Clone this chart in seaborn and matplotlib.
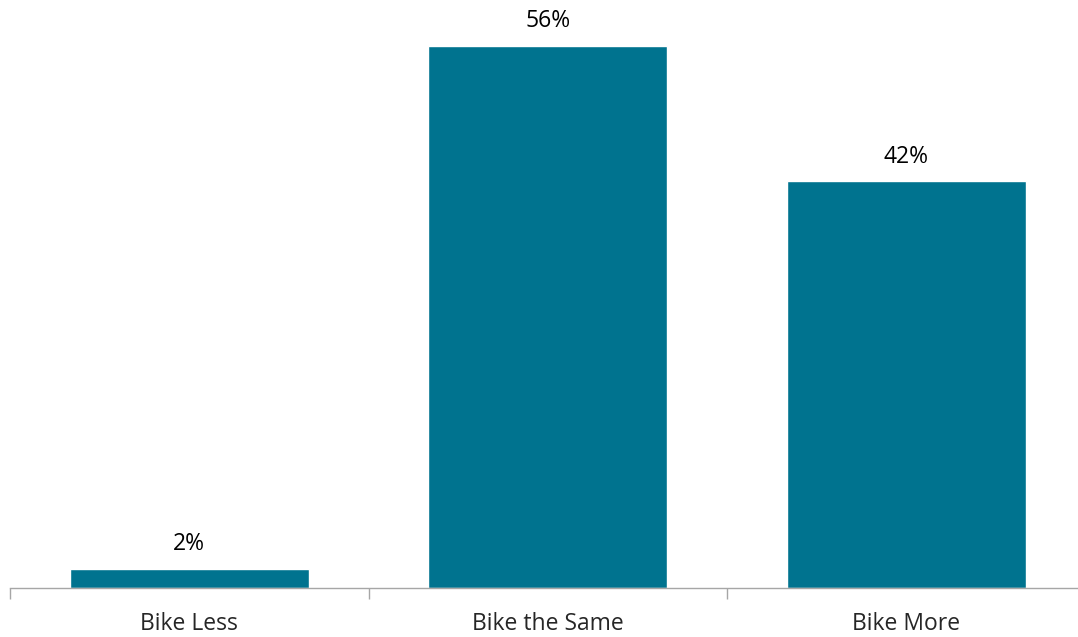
import matplotlib.pyplot as plt
import pandas as pd
import seaborn as sns

# Chart data
categories = ["Bike Less", "Bike the Same", "Bike More"]
shares = [2, 56, 42]

df = pd.DataFrame({"category": categories, "share": shares})

sns.set_style("white")
plt.rcParams["font.family"] = ["Open Sans", "DejaVu Sans"]

fig = plt.figure(figsize=(10.78, 6.37), dpi=100)
# axes spans a little past the right edge, like the original export
ax = fig.add_axes([10 / 1078, 49 / 637, 1075.5 / 1078, 581 / 637])

sns.barplot(data=df, x="category", y="share", color="#00738F", width=0.667,
            saturation=1, ax=ax)

for i, v in enumerate(shares):
    ax.text(i, v + 1.3, f"{v}%", ha="center", va="bottom", fontsize=16.5,
            color="#000000")

ax.set_xlim(-0.5, 2.5)
ax.set_ylim(0, 60)
ax.set_xlabel("")
ax.set_ylabel("")
ax.set_yticks([])
ax.set_xticks([-0.5, 0.5, 1.5, 2.5])
ax.set_xticklabels([])
ax.set_xticks([0, 1, 2], minor=True)
ax.set_xticklabels(categories, minor=True, fontsize=16.5)
ax.tick_params(axis="x", which="major", length=8, width=1, color="#A6A6A6",
               direction="out", bottom=True)
ax.tick_params(axis="x", which="minor", length=0, pad=17)

for side in ["top", "right", "left"]:
    ax.spines[side].set_visible(False)
ax.spines["bottom"].set_color("#A6A6A6")
ax.spines["bottom"].set_linewidth(1)

fig.savefig("out.png", dpi=100)
